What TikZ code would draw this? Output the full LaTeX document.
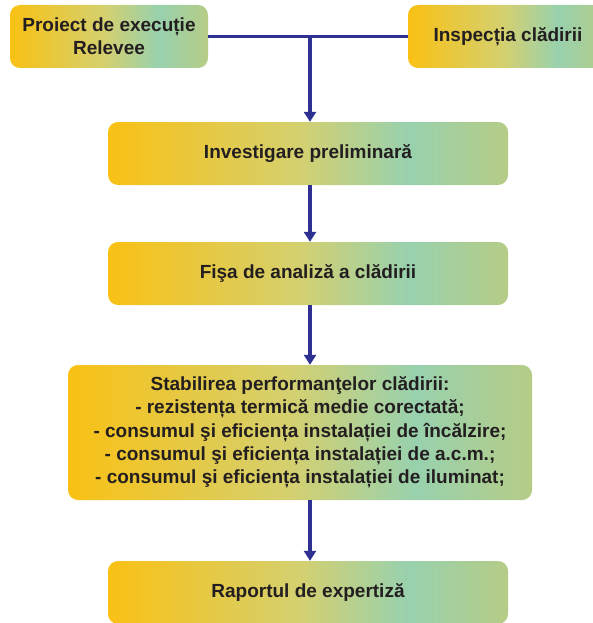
\documentclass[tikz,border=0pt]{standalone}
\usepackage{fontspec}
\setmainfont{Liberation Sans}
\usetikzlibrary{arrows.meta}
\definecolor{cA}{HTML}{F9C114}
\definecolor{cB}{HTML}{D4D070}
\definecolor{cC}{HTML}{98D1AE}
\definecolor{cD}{HTML}{B6CC86}
\definecolor{lineblue}{HTML}{2E3192}
\definecolor{txt}{HTML}{231F20}
\pgfdeclarehorizontalshading{boxshade}{100bp}{color(0bp)=(cA); color(25bp)=(cA); color(49bp)=(cB); color(62.5bp)=(cC); color(75bp)=(cD); color(100bp)=(cD)}
\tikzset{
  flowbox/.style={shading=boxshade, rounded corners=10pt, inner sep=0pt, align=center,
    text=txt, font=\fontsize{19}{23.3}\selectfont\bfseries},
  arr/.style={draw=lineblue, line width=3.6pt, -{Triangle[length=10pt,width=12pt]}},
  conn/.style={draw=lineblue, line width=3.6pt}
}
\begin{document}
\begin{tikzpicture}[x=1pt,y=-1pt]
\useasboundingbox (0,0) rectangle (593,623);
\clip (0,0) rectangle (593,623);
\node[flowbox, minimum width=198pt, minimum height=63pt] (p1) at (109,36.5) {Proiect de execuție\\Relevee};
\node[flowbox, minimum width=200pt, minimum height=63pt] (p2) at (508,36.5) {Inspecția clădirii};
\node[flowbox, minimum width=400pt, minimum height=63pt] (inv) at (308,153.5) {Investigare preliminară};
\node[flowbox, minimum width=400pt, minimum height=63pt] (fisa) at (308,273.5) {Fişa de analiză a clădirii};
\node[flowbox, minimum width=464pt, minimum height=135pt] (stab) at (300,432.5) {Stabilirea performanţelor clădirii:\\- rezistența termică medie corectată;\\- consumul şi eficiența instalației de încălzire;\\- consumul şi eficiența instalației de a.c.m.;\\- consumul şi eficiența instalației de iluminat;};
\node[flowbox, minimum width=400pt, minimum height=63pt] (rap) at (308,592.5) {Raportul de expertiză};
\coordinate (j) at (310,36.5);
\draw[conn] (p1.east) -- (p2.west);
\draw[arr] (j) -- (j |- inv.north);
\draw[arr] (j |- inv.south) -- (j |- fisa.north);
\draw[arr] (j |- fisa.south) -- (j |- stab.north);
\draw[arr] (j |- stab.south) -- (j |- rap.north);
\end{tikzpicture}
\end{document}
